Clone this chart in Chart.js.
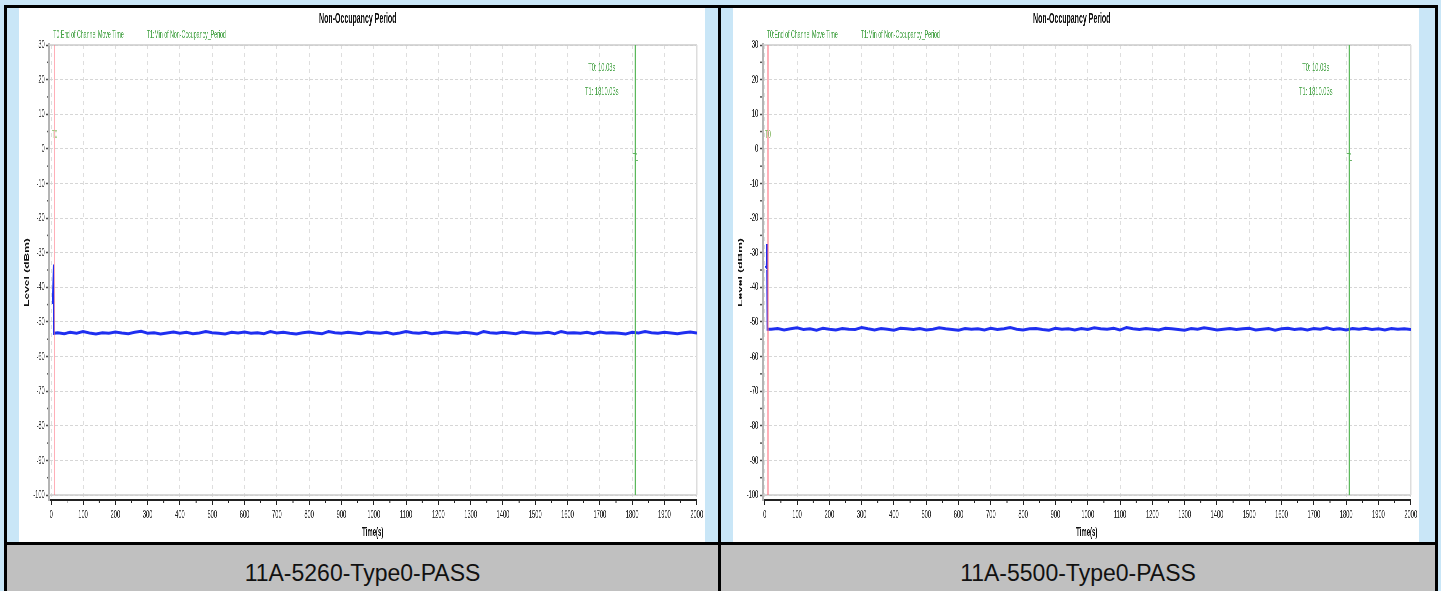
<!DOCTYPE html>
<html>
<head>
<meta charset="utf-8">
<script src="https://cdn.jsdelivr.net/npm/chart.js@4.4.0/dist/chart.umd.min.js"></script>
<style>
  html, body { margin: 0; padding: 0; }
  body { width: 1441px; height: 591px; overflow: hidden; position: relative; background: #c9e6f7; font-family: "Liberation Sans", Arial, sans-serif; }
  .bar { position: absolute; background: #000; }
  .cap { position: absolute; top: 545px; height: 46px; background: #c0c0c0; }
  .capText { position: absolute; top: 562px; height: 23px; line-height: 23px; font-size: 23px; color: #111; text-align: center; }
  /* the source image was squeezed sideways, so each chart is drawn twice as wide and squeezed back */
  .plot { position: absolute; top: 8px; width: 1372px; height: 534px; background: #fff; transform: scaleX(0.5); transform-origin: 0 0; }
</style>
</head>
<body>
<div class="cap" style="left:7px;width:711px"></div>
<div class="cap" style="left:721px;width:714px"></div>
<div class="capText" style="left:7px;width:711px">11A-5260-Type0-PASS</div>
<div class="capText" style="left:721px;width:714px">11A-5500-Type0-PASS</div>
<div class="plot" style="left:19px"><canvas id="c5260"></canvas></div>
<div class="plot" style="left:733px"><canvas id="c5500"></canvas></div>
<div class="bar" style="left:4px;top:5px;width:1434px;height:3px"></div>
<div class="bar" style="left:4px;top:5px;width:3px;height:586px"></div>
<div class="bar" style="left:718px;top:5px;width:3px;height:586px"></div>
<div class="bar" style="left:1435px;top:5px;width:3px;height:586px"></div>
<div class="bar" style="left:4px;top:542px;width:1434px;height:3px"></div>

<script>
// time axis (s)
const timeSec = [2, 5, 7, 8,
  20, 40, 60, 80, 100, 120, 140, 160, 180, 200, 220, 240, 260, 280, 300, 320, 340, 360, 380, 400,
  420, 440, 460, 480, 500, 520, 540, 560, 580, 600, 620, 640, 660, 680, 700, 720, 740, 760, 780, 800,
  820, 840, 860, 880, 900, 920, 940, 960, 980, 1000, 1020, 1040, 1060, 1080, 1100, 1120, 1140, 1160, 1180, 1200,
  1220, 1240, 1260, 1280, 1300, 1320, 1340, 1360, 1380, 1400, 1420, 1440, 1460, 1480, 1500, 1520, 1540, 1560, 1580, 1600,
  1620, 1640, 1660, 1680, 1700, 1720, 1740, 1760, 1780, 1800, 1820, 1840, 1860, 1880, 1900, 1920, 1940, 1960, 1980, 2000];

// level (dBm), 5260 MHz
const level5260 = [-44.5, -44.3, -33.4, -53.3,
  -53.1, -53.4, -53.0, -53.3, -52.8, -53.2, -53.5, -53.1, -53.3, -52.9,
  -53.2, -53.4, -53.0, -52.7, -53.3, -53.1, -53.5, -53.2, -52.9, -53.3,
  -53.0, -53.4, -53.2, -52.8, -53.1, -53.3, -53.5, -53.0, -53.2, -52.9,
  -53.3, -53.1, -53.4, -52.8, -53.2, -53.0, -53.3, -53.5, -53.1, -52.9,
  -53.2, -53.4, -52.8, -53.1, -53.3, -53.0, -53.2, -53.4, -52.9, -53.1,
  -53.3, -53.0, -53.5, -53.2, -52.8, -53.1, -53.3, -53.0, -53.4, -53.2,
  -52.9, -53.1, -53.3, -53.0, -53.2, -53.5, -52.8, -53.1, -53.3, -53.0,
  -53.2, -53.4, -52.9, -53.1, -53.3, -53.2, -53.0, -53.4, -52.8, -53.2,
  -53.1, -53.3, -53.0, -53.4, -52.9, -53.2, -53.1, -53.3, -53.5, -53.0,
  -53.2, -52.8, -53.1, -53.3, -53.0, -53.2, -53.4, -53.1, -52.9, -53.2];

// level (dBm), 5500 MHz
const level5500 = [-33.8, -34.2, -27.5, -52.1,
  -52.1, -51.9, -52.3, -52.0, -51.7, -52.2, -52.0, -52.4, -51.8, -52.1,
  -52.3, -51.9, -52.1, -52.2, -51.6, -52.0, -52.3, -51.9, -52.1, -52.4,
  -51.8, -52.0, -52.2, -51.9, -52.3, -52.1, -51.7, -52.0, -52.2, -52.4,
  -51.9, -52.1, -52.0, -52.3, -51.8, -52.2, -52.0, -51.6, -52.1, -52.3,
  -52.0, -51.9, -52.2, -52.4, -51.8, -52.1, -52.0, -52.3, -51.9, -52.2,
  -51.7, -52.0, -52.1, -51.8, -52.3, -51.6, -52.0, -52.2, -51.9, -52.1,
  -52.3, -51.8, -52.0, -52.2, -52.4, -51.9, -52.1, -51.7, -52.0, -52.3,
  -52.1, -51.9, -52.2, -52.0, -51.8, -52.3, -52.1, -51.9, -52.4, -52.0,
  -51.8, -52.2, -52.0, -52.3, -51.9, -52.1, -51.7, -52.2, -52.0, -52.3,
  -51.9, -52.1, -51.8, -52.2, -52.0, -52.3, -51.9, -52.1, -52.0, -52.2];

const xTicks = [0, 100, 200, 300, 400, 500, 600, 700, 800, 900, 1000,
  1100, 1200, 1300, 1400, 1500, 1600, 1700, 1800, 1900, 2000];
const yTicks = [30, 20, 10, 0, -10, -20, -30, -40, -50, -60, -70, -80, -90, -100];

const markerTimes = [10.03, 1810.03];
const markerTags = ['T0', 'T1'];
const markerNames = ['T0:End of Channel Move Time', 'T1:Min of Non-Occupancy_Period'];

const family = '"Liberation Sans", Arial, sans-serif';
const green = '#3f9f3f';

// frame, minor ticks and the marker texts
const extras = {
    id: 'extras',
    beforeDatasetsDraw(chart) {
        const {ctx, scales: {x, y}} = chart;
        const l = chart.chartArea.left;
        const r = x.getPixelForValue(xTicks[xTicks.length - 1]);
        const t = y.getPixelForValue(yTicks[0]);
        const b = y.getPixelForValue(yTicks[yTicks.length - 1]);
        ctx.save();
        ctx.strokeStyle = '#cccccc';
        ctx.lineWidth = 1.5;
        ctx.beginPath();
        ctx.moveTo(l, t); ctx.lineTo(r, t);
        ctx.moveTo(l, b); ctx.lineTo(r, b);
        ctx.stroke();
        ctx.lineWidth = 3;
        ctx.strokeStyle = '#dddddd';
        ctx.beginPath();
        ctx.moveTo(r, t); ctx.lineTo(r, b);
        ctx.stroke();
        ctx.restore();
    },
    afterDraw(chart) {
        const {ctx, chartArea: a, scales: {x, y}} = chart;
        ctx.save();
        // minor ticks
        ctx.fillStyle = '#555';
        for (let i = 0; i < yTicks.length - 1; i++) {
            const py = y.getPixelForValue((yTicks[i] + yTicks[i + 1]) / 2);
            ctx.fillRect(a.left - 5, py - 0.75, 3, 1.5);
        }
        ctx.strokeStyle = '#222';
        ctx.lineWidth = 2;
        for (let i = 0; i < xTicks.length - 1; i++) {
            const px = x.getPixelForValue((xTicks[i] + xTicks[i + 1]) / 2);
            ctx.beginPath();
            ctx.moveTo(px, a.bottom);
            ctx.lineTo(px, a.bottom + 3);
            ctx.stroke();
        }
        // marker legend
        ctx.fillStyle = green;
        ctx.textBaseline = 'middle';
        ctx.textAlign = 'left';
        ctx.font = '10.5px ' + family;
        ctx.fillText(markerNames[0], a.left + 8, a.top - 10);
        ctx.fillText(markerNames[1], a.left + 196, a.top - 10);
        // marker values
        ctx.font = '11.5px ' + family;
        ctx.textAlign = 'center';
        const bx = x.getPixelForValue(1706);
        ctx.fillText(markerTags[0] + ': ' + markerTimes[0] + 's', bx, a.top + 23);
        ctx.fillText(markerTags[1] + ': ' + markerTimes[1] + 's', bx, a.top + 47);
        // tags on the lines
        ctx.font = '10px ' + family;
        ctx.fillStyle = '#8cbc6c';
        ctx.fillText(markerTags[0], x.getPixelForValue(markerTimes[0]), y.getPixelForValue(4));
        ctx.fillStyle = green;
        ctx.fillText(markerTags[1], x.getPixelForValue(markerTimes[1]), y.getPixelForValue(-2.7));
        ctx.restore();
    }
};

function markerLine(i) {
    return [
        {x: markerTimes[i], y: yTicks[yTicks.length - 1]},
        {x: markerTimes[i], y: yTicks[0]}
    ];
}

function makeChart(id, levels) {
    return new Chart(document.getElementById(id), {
        type: 'line',
        data: {
            datasets: [
                {
                    label: markerNames[0],
                    data: markerLine(0),
                    borderColor: 'rgba(255, 110, 125, 0.55)',
                    borderWidth: 3
                },
                {
                    label: markerNames[1],
                    data: markerLine(1),
                    borderColor: '#5cb85c',
                    borderWidth: 3
                },
                {
                    label: 'Level',
                    data: timeSec.map((t, i) => ({x: t, y: levels[i]})),
                    borderColor: '#1f2ff0',
                    borderWidth: 3
                }
            ]
        },
        options: {
            responsive: true,
            maintainAspectRatio: false,
            animation: false,
            layout: { padding: { left: 0, right: 16, top: 0, bottom: 0 } },
            elements: { point: { radius: 0 }, line: { tension: 0 } },
            plugins: {
                legend: { display: false },
                tooltip: { enabled: false },
                title: {
                    display: true,
                    text: 'Non-Occupancy Period',
                    color: '#111',
                    font: { family: family, size: 14, weight: 'bold' },
                    padding: { top: 3.1, bottom: 17.1 }
                }
            },
            scales: {
                x: {
                    type: 'linear',
                    min: -6.2,
                    max: 2000,
                    afterBuildTicks: s => { s.ticks = xTicks.map(v => ({ value: v })); },
                    afterFit: s => { s.height = 42; },
                    ticks: {
                        autoSkip: false,
                        maxRotation: 0,
                        padding: 3,
                        color: '#222',
                        font: { family: family, size: 11.5 },
                        callback: v => String(v)
                    },
                    grid: { color: '#dedede', lineWidth: 2, tickColor: '#222', tickLength: 5, tickWidth: 2 },
                    border: { display: true, color: '#222', width: 2, dash: [4, 4] },
                    title: {
                        display: true,
                        text: 'Time(s)',
                        color: '#111',
                        font: { family: family, size: 12, weight: 'bold' },
                        padding: { top: 0, bottom: 2 }
                    }
                },
                y: {
                    min: -101.44,
                    max: 30,
                    afterBuildTicks: s => { s.ticks = yTicks.map(v => ({ value: v })); },
                    afterFit: s => { s.width = 60; },
                    ticks: {
                        padding: 3,
                        color: '#222',
                        font: { family: family, size: 11.5 },
                        callback: v => String(v)
                    },
                    grid: { color: '#d6d6d6', lineWidth: 1, tickColor: '#444', tickLength: 6, tickWidth: 1.5 },
                    border: { display: true, color: '#b4b4b4', width: 4, dash: [6, 4] },
                    title: {
                        display: true,
                        text: 'Level (dBm)',
                        color: '#111',
                        font: { family: family, size: 12, weight: 'bold' },
                        padding: { top: 8.8, bottom: 0 }
                    }
                }
            }
        },
        plugins: [extras]
    });
}

makeChart('c5260', level5260);
makeChart('c5500', level5500);
</script>
</body>
</html>
